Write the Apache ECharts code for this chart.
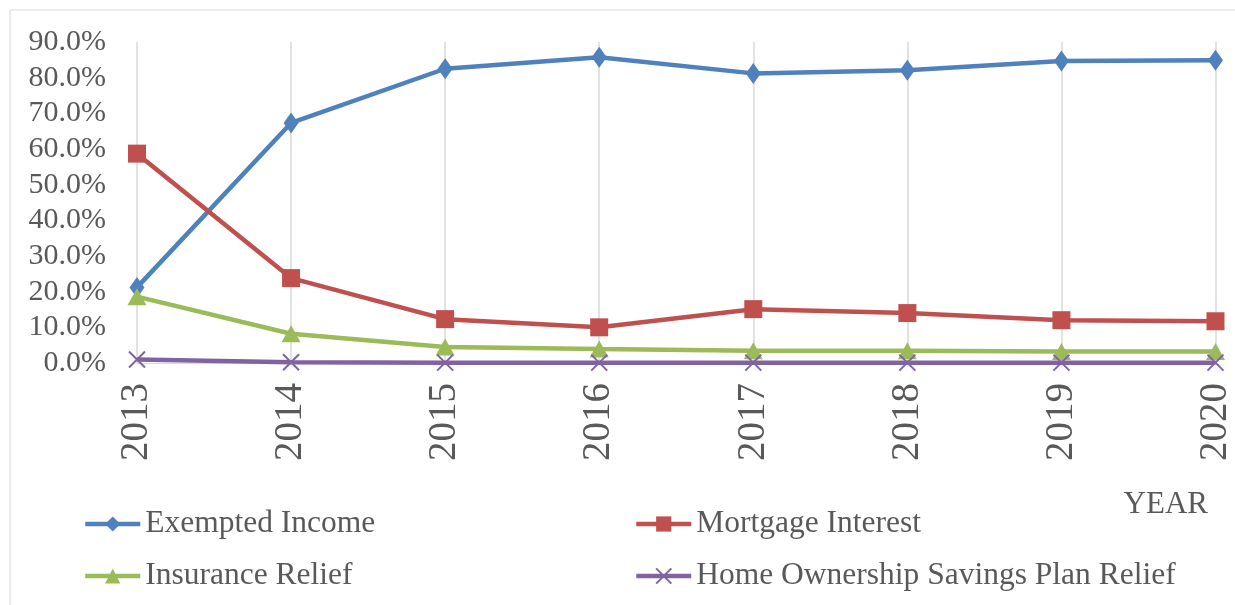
<!DOCTYPE html>
<html>
<head>
<meta charset="utf-8">
<script src="https://cdn.jsdelivr.net/npm/echarts@6/dist/echarts.min.js"></script>
<style>
  html, body { margin: 0; padding: 0; background: #fff; }
  #chart { width: 1235px; height: 605px; }
</style>
</head>
<body>
<div id="chart"></div>
<script>
// values, in percent
const years = ['2013', '2014', '2015', '2016', '2017', '2018', '2019', '2020']
const exemptedIncome = [21.2, 67.3, 82.5, 85.7, 81.2, 82.1, 84.7, 84.9]
const mortgageInterest = [58.7, 23.8, 12.3, 10.0, 15.1, 14.0, 12.0, 11.7]
const insuranceRelief = [18.6, 8.2, 4.5, 3.9, 3.4, 3.4, 3.2, 3.2]
const homeOwnership = [1.0, 0.2, 0.1, 0.1, 0.1, 0.1, 0.1, 0.1]
const yTicks = [0, 10, 20, 30, 40, 50, 60, 70, 80, 90]

const font = 'Liberation Serif, Times New Roman, serif'
const grey = '#595959'
const xPath = 'path://M0,0 L10,10 M10,0 L0,10'

const seriesDefs = [
  { name: 'Exempted Income', data: exemptedIncome, color: '#4f81bd', symbol: 'diamond', size: [15, 21] },
  { name: 'Mortgage Interest', data: mortgageInterest, color: '#c0504d', symbol: 'rect', size: 18 },
  { name: 'Insurance Relief', data: insuranceRelief, color: '#9bbb59', symbol: 'triangle', size: [19, 17] },
  { name: 'Home Ownership Savings Plan Relief', data: homeOwnership, color: '#8064a2', symbol: xPath, size: 16 },
]

const legendPos = [
  { left: 83, top: 508 },
  { left: 634, top: 508 },
  { left: 83, top: 560 },
  { left: 634, top: 560 },
]

const myChart = echarts.init(document.getElementById('chart'))

myChart.setOption({
  animation: false,
  title: {
    text: 'YEAR',
    right: 22,
    top: 484,
    textStyle: { fontFamily: font, fontSize: 31, fontWeight: 'normal', color: grey },
  },
  legend: seriesDefs.map((s, i) => ({
    data: [s.name],
    left: legendPos[i].left,
    top: legendPos[i].top,
    padding: 0,
    itemWidth: 55,
    itemHeight: 19,
    lineStyle: { width: 4.5 },
    textStyle: { fontFamily: font, fontSize: 31.5, color: grey },
  })),
  graphic: [
    {
      type: 'rect',
      shape: { x: 10, y: 10, width: 1240, height: 610 },
      style: { fill: 'none', stroke: '#d9d9d9', lineWidth: 1 },
      silent: true,
    },
  ],
  grid: {
    left: 137,
    right: 19,
    top: 42,
    bottom: 242,
    containLabel: false,
  },
  xAxis: {
    type: 'category',
    data: years,
    boundaryGap: false,
    axisLine: { show: true, lineStyle: { color: '#d9d9d9', width: 1 } },
    axisTick: { show: false },
    splitLine: { show: true, lineStyle: { color: '#d9d9d9', width: 1.5 } },
    axisLabel: {
      rotate: 90,
      margin: 20,
      fontFamily: font,
      fontSize: 39,
      color: grey,
    },
  },
  yAxis: {
    type: 'value',
    min: yTicks[0],
    max: yTicks[yTicks.length - 1],
    interval: 10,
    axisLine: { show: false },
    axisTick: { show: false },
    splitLine: { show: false },
    axisLabel: {
      margin: 31,
      fontFamily: font,
      fontSize: 30,
      color: grey,
      formatter: (v) => `${v.toFixed(1)}%`,
    },
  },
  series: seriesDefs.map((s) => ({
    name: s.name,
    type: 'line',
    data: s.data,
    symbol: s.symbol,
    symbolSize: s.size,
    lineStyle: { color: s.color, width: 4.5 },
    itemStyle: { color: s.color, borderColor: s.color, borderWidth: s.symbol === xPath ? 2 : 0 },
    emphasis: { disabled: true },
  })),
})
</script>
</body>
</html>
